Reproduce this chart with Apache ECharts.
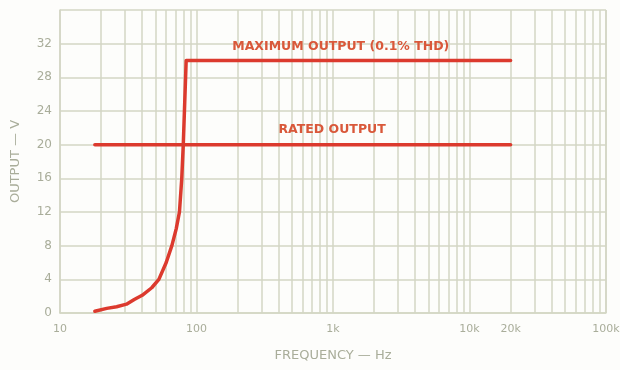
<!DOCTYPE html>
<html><head><meta charset="utf-8">
<script src="https://cdn.jsdelivr.net/npm/echarts@6/dist/echarts.min.js"></script>
<style>html,body{margin:0;padding:0;background:#fdfdfb}#c{width:620px;height:370px}</style>
</head><body><div id="c"></div>
<script>
// Data
const curveFreq = [18, 22, 26, 30.7, 35, 40, 47, 53, 60, 66, 71, 75, 78, 80, 84, 20000];
const curveVolt = [0.2, 0.55, 0.75, 1.05, 1.6, 2.1, 3, 4, 6, 8, 10, 12, 16, 20, 30, 30];
const ratedFreq = [18, 20000];
const ratedVolt = [20, 20];
const xTickLabels = [10, 100, 1000, 10000, 20000, 100000];
const yTicks = [0, 4, 8, 12, 16, 20, 24, 28, 32];
const gridFreqs = [20,30,40,50,60,70,80,90,200,300,400,500,600,700,800,900,2000,3000,4000,5000,6000,7000,8000,9000,20000,30000,40000,50000,60000,70000,80000,90000];
const maxLabel = 'MAXIMUM OUTPUT (0.1% THD)';
const ratedLabel = 'RATED OUTPUT';

const gridColor = '#d3d6c4';
const textColor = '#a9ad9a';
const red = '#dc3a2e';
const labelRed = '#d9583a';

const chart = echarts.init(document.getElementById('c'));
const fmtX = v => v >= 1000 ? (v / 1000) + 'k' : String(v);
chart.setOption({
  backgroundColor: '#fdfdfb',
  animation: false,
  grid: { left: 60, right: 14, top: 10, bottom: 57, outerBoundsMode: 'none', containLabel: false },
  xAxis: {
    type: 'log', min: 10, max: 100000, logBase: 10,
    name: 'FREQUENCY — Hz', nameLocation: 'middle', nameGap: 36,
    nameTextStyle: { color: textColor, fontSize: 13, fontFamily: 'DejaVu Sans', letterSpacing: 1 },
    axisLine: { show: true, lineStyle: { color: gridColor, width: 1.5 } },
    axisTick: { show: false },
    axisLabel: { color: textColor, fontSize: 11, fontFamily: 'DejaVu Sans', margin: 11,
      customValues: xTickLabels, formatter: fmtX },
    splitLine: { show: true, lineStyle: { color: gridColor, width: 1.5 } }
  },
  yAxis: {
    type: 'value', min: 0, max: 36, interval: 4,
    name: 'OUTPUT — V', nameLocation: 'middle', nameGap: 38,
    nameTextStyle: { color: textColor, fontSize: 13, fontFamily: 'DejaVu Sans', letterSpacing: 1 },
    axisLine: { show: true, lineStyle: { color: gridColor, width: 1.5 } },
    axisTick: { show: false },
    axisLabel: { color: textColor, fontSize: 12, fontFamily: 'DejaVu Sans', margin: 8,
      formatter: v => yTicks.indexOf(v) >= 0 ? String(v) : '' },
    splitLine: { show: true, lineStyle: { color: gridColor, width: 1.5 } }
  },
  series: [
    {
      type: 'line', data: [], silent: true, z: 1,
      markLine: {
        silent: true, symbol: 'none', label: { show: false },
        lineStyle: { color: gridColor, width: 1.5, type: 'solid' },
        data: gridFreqs.map(f => ({ xAxis: f })).concat([{ xAxis: 100000 }])
      }
    },
    {
      type: 'line', showSymbol: false, smooth: false, z: 5,
      data: curveFreq.map((f, i) => [f, curveVolt[i]]),
      lineStyle: { color: red, width: 3.5, cap: 'round', join: 'round' },
      markPoint: {
        symbol: 'circle', symbolSize: 0,
        label: { show: true, formatter: maxLabel, color: labelRed, fontWeight: 'bold', fontSize: 12.5,
          fontFamily: 'DejaVu Sans', offset: [0, -14] },
        data: [{ coord: [1140, 30] }]
      }
    },
    {
      type: 'line', showSymbol: false, z: 5,
      data: ratedFreq.map((f, i) => [f, ratedVolt[i]]),
      lineStyle: { color: red, width: 3.5, cap: 'round' },
      markPoint: {
        symbol: 'circle', symbolSize: 0,
        label: { show: true, formatter: ratedLabel, color: labelRed, fontWeight: 'bold', fontSize: 12.5,
          fontFamily: 'DejaVu Sans', offset: [0, -15] },
        data: [{ coord: [985, 20] }]
      }
    }
  ]
});
</script></body></html>
